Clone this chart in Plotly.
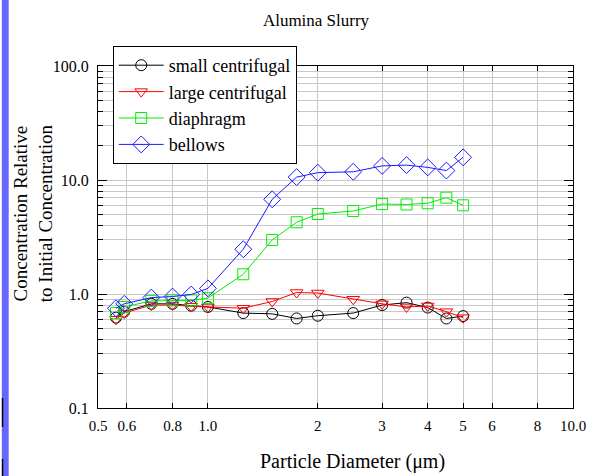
import plotly.graph_objects as go

diameter = [0.56, 0.59, 0.7, 0.8, 0.9, 1.0, 1.25, 1.5, 1.75, 2.0, 2.5, 3.0, 3.5, 4.0, 4.5, 5.0]
small_centrifugal = [0.62, 0.70, 0.82, 0.82, 0.79, 0.77, 0.68, 0.67, 0.61, 0.645, 0.68, 0.80, 0.84, 0.76, 0.61, 0.64]
large_centrifugal = [0.60, 0.68, 0.80, 0.80, 0.78, 0.77, 0.75, 0.86, 1.03, 1.02, 0.90, 0.82, 0.77, 0.785, 0.70, 0.62]
diaphragm = [0.68, 0.77, 0.87, 0.88, 0.88, 0.92, 1.49, 2.98, 4.26, 5.03, 5.35, 6.15, 6.1, 6.25, 7.0, 6.0]
bellows = [0.75, 0.82, 0.93, 0.95, 0.99, 1.12, 2.47, 6.77, 10.6, 11.6, 11.8, 13.3, 13.5, 12.9, 12.1, 15.8]

series_names = ["small centrifugal", "large centrifugal", "diaphragm", "bellows"]
series_values = [small_centrifugal, large_centrifugal, diaphragm, bellows]
series_colors = ["#000000", "#ff0000", "#00ee00", "#1a1aff"]
series_symbols = ["circle-open", "triangle-down-open", "square-open", "diamond-open"]
series_sizes = [11, 11, 11, 13]

x_tickvals = [0.5, 0.6, 0.8, 1, 2, 3, 4, 5, 6, 8, 10]
x_ticktext = ["0.5", "0.6", "0.8", "1.0", "2", "3", "4", "5", "6", "8", "10.0"]
y_tickvals = [0.1, 1, 10, 100]
y_ticktext = ["0.1", "1.0", "10.0", "100.0"]
y_minor = [m * d for d in (0.1, 1, 10) for m in range(2, 10)]

FONT = "Liberation Serif"

fig = go.Figure()
for name, vals, col, sym, sz in zip(series_names, series_values, series_colors, series_symbols, series_sizes):
    fig.add_trace(go.Scatter(
        x=diameter, y=vals, name=name, mode="lines+markers",
        line=dict(color=col, width=1),
        marker=dict(symbol=sym, size=sz, color=col, line=dict(width=1, color=col)),
    ))

fig.update_layout(
    width=598, height=476,
    margin=dict(l=98, r=16, t=66, b=68),
    paper_bgcolor="white", plot_bgcolor="white",
    font=dict(family=FONT, size=15, color="black"),
    title=dict(text="Alumina Slurry", x=316/598, xanchor="center", y=1-20/476, yanchor="middle",
               font=dict(family=FONT, size=17, color="black")),
    showlegend=True,
    legend=dict(x=(113-98)/484, y=(408-46)/342, xanchor="left", yanchor="top",
                bgcolor="white", bordercolor="black", borderwidth=1, itemwidth=45,
                font=dict(family=FONT, size=18, color="black"), tracegroupgap=0),
)

fig.update_xaxes(
    type="log", range=[-0.30103, 1],
    tickmode="array", tickvals=x_tickvals, ticktext=x_ticktext,
    showgrid=True, gridcolor="#c8c8c8", gridwidth=1,
    showline=True, linecolor="black", linewidth=1, mirror="ticks",
    ticks="inside", ticklen=5, tickcolor="black", ticklabelstandoff=4,
    zeroline=False,
    tickfont=dict(family=FONT, size=15, color="black"),
)
fig.update_yaxes(
    type="log", range=[-1, 2],
    tickmode="array", tickvals=y_tickvals, ticktext=y_ticktext,
    showgrid=True, gridcolor="#c8c8c8", gridwidth=1,
    showline=True, linecolor="black", linewidth=1, mirror="ticks",
    ticks="inside", ticklen=9, tickcolor="black", ticklabelstandoff=5,
    minor=dict(tickmode="array", tickvals=y_minor, ticks="inside", ticklen=5,
               tickcolor="black", showgrid=True, gridcolor="#c8c8c8", gridwidth=1),
    zeroline=False,
    tickfont=dict(family=FONT, size=16, color="black"),
)

# axis titles as annotations
fig.add_annotation(text="Concentration Relative<br>to Initial Concentration",
                   xref="paper", yref="paper", x=(32-98)/484, y=(408-213)/342,
                   xanchor="center", yanchor="middle", textangle=-90, showarrow=False,
                   font=dict(family=FONT, size=19, color="black"))
fig.add_annotation(text="Particle Diameter (μm)",
                   xref="paper", yref="paper", x=(357-98)/484, y=(408-461)/342,
                   xanchor="center", yanchor="middle", showarrow=False,
                   font=dict(family=FONT, size=20, color="black"))

# left-edge screenshot strip
def px_x(p):
    return (p - 98) / 484

def px_y(p):
    return (408 - p) / 342

fig.add_shape(type="rect", xref="paper", yref="paper", x0=px_x(0), x1=px_x(7), y0=px_y(476), y1=px_y(0),
              fillcolor="#6666ff", line=dict(width=0), layer="above")
fig.add_shape(type="rect", xref="paper", yref="paper", x0=px_x(0), x1=px_x(1.5), y0=px_y(427), y1=px_y(398),
              fillcolor="black", line=dict(width=0), layer="above")
fig.add_shape(type="rect", xref="paper", yref="paper", x0=px_x(0), x1=px_x(1.5), y0=px_y(476), y1=px_y(459),
              fillcolor="black", line=dict(width=0), layer="above")

fig.write_html("out.html")
